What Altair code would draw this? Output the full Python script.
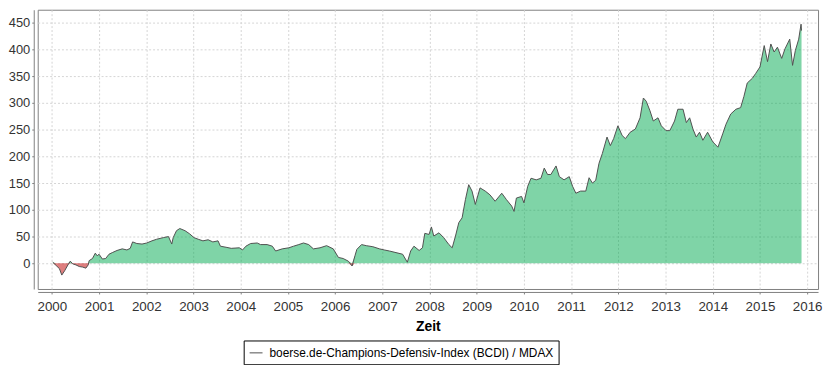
import altair as alt
import pandas as pd

series_name = "boerse.de-Champions-Defensiv-Index (BCDI) / MDAX"

years = [
    2000.02, 2000.09, 2000.16, 2000.21, 2000.27, 2000.34, 2000.39, 2000.44, 2000.51, 2000.58,
    2000.65, 2000.72, 2000.77, 2000.79, 2000.86, 2000.92, 2000.96, 2001.00, 2001.07, 2001.14,
    2001.21, 2001.28, 2001.38, 2001.49, 2001.59, 2001.66, 2001.71, 2001.80, 2001.91, 2002.01,
    2002.12, 2002.22, 2002.36, 2002.47, 2002.54, 2002.57, 2002.64, 2002.71, 2002.82, 2002.92,
    2003.01, 2003.10, 2003.20, 2003.31, 2003.41, 2003.52, 2003.57, 2003.69, 2003.80, 2003.97,
    2004.04, 2004.11, 2004.21, 2004.35, 2004.42, 2004.56, 2004.67, 2004.74, 2004.88, 2005.02,
    2005.12, 2005.23, 2005.33, 2005.44, 2005.54, 2005.68, 2005.82, 2005.96, 2006.07, 2006.17,
    2006.28, 2006.36, 2006.42, 2006.46, 2006.56, 2006.66, 2006.80, 2006.94, 2007.04, 2007.15,
    2007.29, 2007.43, 2007.53, 2007.60, 2007.67, 2007.78, 2007.85, 2007.90, 2007.99, 2008.04,
    2008.09, 2008.20, 2008.30, 2008.41, 2008.48, 2008.55, 2008.62, 2008.69, 2008.76, 2008.83,
    2008.90, 2008.97, 2009.07, 2009.18, 2009.28, 2009.39, 2009.53, 2009.63, 2009.74, 2009.79,
    2009.84, 2009.95, 2010.00, 2010.08, 2010.15, 2010.26, 2010.36, 2010.43, 2010.50, 2010.57,
    2010.68, 2010.75, 2010.85, 2010.96, 2011.03, 2011.10, 2011.20, 2011.31, 2011.38, 2011.45,
    2011.52, 2011.59, 2011.66, 2011.76, 2011.83, 2011.90, 2011.99, 2012.08, 2012.15, 2012.25,
    2012.36, 2012.46, 2012.53, 2012.59, 2012.67, 2012.74, 2012.84, 2012.91, 2013.01, 2013.09,
    2013.19, 2013.26, 2013.37, 2013.44, 2013.51, 2013.58, 2013.65, 2013.72, 2013.79, 2013.89,
    2014.00, 2014.11, 2014.21, 2014.28, 2014.38, 2014.49, 2014.59, 2014.66, 2014.73, 2014.84,
    2014.91, 2015.00, 2015.09, 2015.16, 2015.23, 2015.30, 2015.37, 2015.46, 2015.53, 2015.63,
    2015.69, 2015.75, 2015.82, 2015.87, 2015.88,
]

values = [
    2, -4, -10, -22, -14, -3, 4, -1, -3, -6,
    -7, -9, -3, 5, 9, 19, 14, 17, 8, 9,
    17, 20, 24, 27, 25, 28, 40, 37, 36, 38,
    42, 45, 48, 50, 36, 48, 61, 65, 61, 55,
    48, 45, 42, 44, 40, 42, 32, 30, 28, 29,
    25, 32, 37, 38, 35, 35, 32, 23, 27, 29,
    32, 35, 38, 35, 27, 29, 33, 27, 11, 9,
    4, -5, 14, 26, 35, 33, 31, 27, 25, 23,
    20, 17, 2, 23, 32, 24, 29, 56, 54, 68,
    51, 57, 48, 35, 29, 51, 76, 85, 119, 147,
    135, 110, 141, 135, 128, 116, 131, 119, 107, 97,
    122, 125, 113, 144, 159, 156, 159, 178, 166, 166,
    182, 162, 156, 162, 144, 131, 135, 135, 160, 150,
    155, 187, 205, 236, 220, 233, 257, 239, 233, 245,
    251, 272, 309, 303, 285, 266, 272, 257, 248, 248,
    266, 288, 288, 263, 272, 251, 236, 245, 230, 245,
    227, 217, 242, 260, 279, 288, 291, 312, 337, 346,
    355, 367, 407, 377, 410, 395, 404, 383, 401, 419,
    370, 398, 419, 447, 435,
]

year_ticks = list(range(2000, 2017))
value_ticks = list(range(0, 451, 50))

df = pd.DataFrame({"year": years, "value": values, "series": series_name})

x_scale = alt.Scale(domain=[1999.70, 2016.23], nice=False, zero=False)
y_scale = alt.Scale(domain=[-48, 474], nice=False, zero=False)

x_axis = alt.Axis(
    values=year_ticks, format="d", title="Zeit", offset=3, tickSize=2,
    labelPadding=6, labelFontSize=13.5, titlePadding=6, labelFlush=False,
)
y_axis = alt.Axis(
    values=value_ticks, title=None, offset=4, tickSize=2, labelPadding=2,
    labelFontSize=13,
)

base = alt.Chart(df)

pos_area = base.transform_calculate(pos="max(datum.value, 0)").mark_area(
    color="#00AA50", opacity=0.5
).encode(
    x=alt.X("year:Q", scale=x_scale, axis=x_axis),
    y=alt.Y("pos:Q", scale=y_scale, axis=y_axis),
    y2=alt.datum(0),
)

neg_area = base.transform_calculate(neg="min(datum.value, 0)").mark_area(
    color="#C00000", opacity=0.5
).encode(
    x=alt.X("year:Q", scale=x_scale, axis=x_axis),
    y=alt.Y("neg:Q", scale=y_scale, axis=y_axis),
    y2=alt.datum(0),
)

line = base.mark_line(strokeWidth=1).encode(
    x=alt.X("year:Q", scale=x_scale, axis=x_axis),
    y=alt.Y("value:Q", scale=y_scale, axis=y_axis),
    color=alt.Color(
        "series:N",
        scale=alt.Scale(domain=[series_name], range=["#505050"]),
        legend=alt.Legend(
            title=None, orient="none", legendX=208, legendY=334,
            symbolType="stroke", symbolStrokeWidth=1, symbolSize=170,
            symbolStrokeColor="#808080", strokeColor="black", fillColor="white",
            padding=5, labelFont="Liberation Sans", labelFontSize=12,
            labelColor="black", labelOffset=6, labelLimit=0,
        ),
    ),
)

chart = alt.layer(pos_area, neg_area, line).properties(
    width=788,
    height=282,
    autosize=alt.AutoSizeParams(type="none"),
    padding={"left": 30, "top": 0, "right": 5, "bottom": 75},
    background="white",
).configure_view(
    stroke="#808080", strokeWidth=1
).configure_axis(
    domainColor="#808080", tickColor="#808080", gridColor="#d4d4d4",
    gridDash=[2, 2], labelFont="Liberation Sans", labelColor="#333333",
    titleFont="Liberation Sans", titleFontSize=14, titleFontWeight="bold",
    titleColor="black", domainWidth=1,
)

chart.save("out.html", embed_options={"renderer": "svg", "actions": False})
